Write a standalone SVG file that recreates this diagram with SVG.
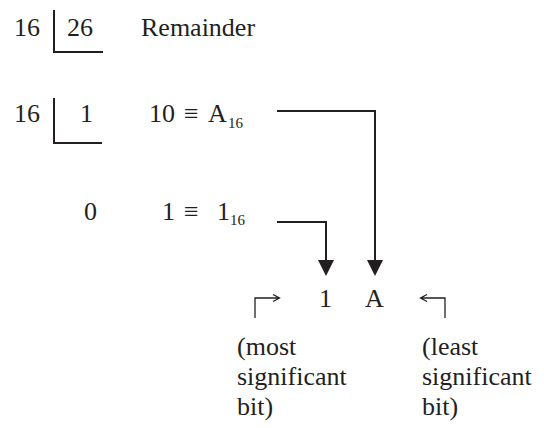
<svg xmlns="http://www.w3.org/2000/svg" width="544" height="428" viewBox="0 0 544 428" font-family="Liberation Serif, serif">
<style>
text{font-family:'Liberation Serif','Times New Roman',serif;font-size:26px;fill:#231f20}
.sub{font-size:15px}
.ln{fill:none;stroke:#231f20;stroke-width:2}
.thin{fill:none;stroke:#231f20;stroke-width:1.3}
.head{fill:#231f20}
</style>
<rect width="544" height="428" fill="#fff"/>
<g id="div1">
<text x="14" y="36">16</text>
<text x="67" y="36">26</text>
<path class="ln" d="M54,10 V52 H103"/>
</g>
<g id="remainder-label"><text x="141" y="36">Remainder</text></g>
<g id="div2">
<text x="14" y="122">16</text>
<text x="80" y="122">1</text>
<path class="ln" d="M54,98 V143 H102"/>
</g>
<g id="rem1">
<text x="149" y="122">10</text>
<text x="184" y="122">≡</text>
<text x="208" y="122">A</text>
<text class="sub" x="228" y="128">16</text>
</g>
<g id="quot0"><text x="84" y="220">0</text></g>
<g id="rem2">
<text x="162" y="220">1</text>
<text x="184" y="220">≡</text>
<text x="217" y="220">1</text>
<text class="sub" x="230" y="225">16</text>
</g>
<g id="result">
<text x="319" y="307">1</text>
<text x="365" y="307">A</text>
</g>
<g id="msb">
<text x="237" y="355">(most</text>
<text x="237" y="385">significant</text>
<text x="237" y="415">bit)</text>
</g>
<g id="lsb">
<text x="422" y="355">(least</text>
<text x="422" y="385">significant</text>
<text x="422" y="415">bit)</text>
</g>
<g id="connectors">
<path class="ln" d="M277,111 H375 V262"/>
<polygon class="head" points="367,260 383,260 375,276"/>
<path class="ln" d="M277,222 H326 V262"/>
<polygon class="head" points="318,260 334,260 326,276"/>
<path class="thin" d="M255,318 V298 H279 M273,294.5 L279.5,298 L273,301.5"/>
<path class="thin" d="M445,318 V298 H421 M427,294.5 L420.5,298 L427,301.5"/>
</g>
</svg>
